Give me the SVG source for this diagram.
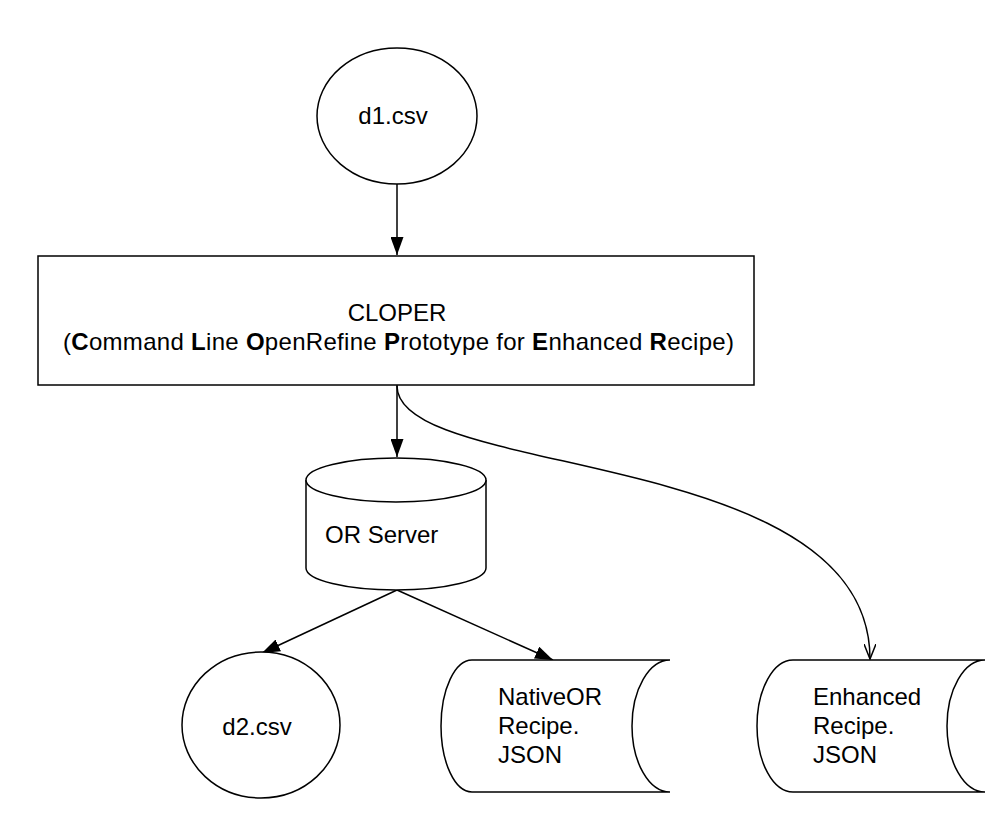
<svg xmlns="http://www.w3.org/2000/svg" width="1008" height="820" viewBox="0 0 1008 820">
<style>
.shape{fill:#fff;stroke:#000;stroke-width:1.5}
.lbl{font-family:"Liberation Sans",Arial,sans-serif;font-size:24px;fill:#000}
.edge{fill:none;stroke:#000;stroke-width:1.5}
</style>
<defs>
<marker id="fill" viewBox="0 0 18 13" refX="18" refY="6.5" markerWidth="18" markerHeight="13" markerUnits="userSpaceOnUse" orient="auto">
<path d="M0,0 L18,6.5 L0,13 Z" fill="#000"/>
</marker>
<marker id="open" viewBox="0 0 16 12" refX="15" refY="6" markerWidth="16" markerHeight="12" markerUnits="userSpaceOnUse" orient="auto">
<path d="M0,0 L15,6 L0,12" fill="none" stroke="#000" stroke-width="1.5"/>
</marker>
</defs>
<rect width="1008" height="820" fill="#fff"/>
<g id="connectors">
<path class="edge" d="M397,184 V255" marker-end="url(#fill)"/>
<path class="edge" d="M397,385 V457" marker-end="url(#fill)"/>
<path class="edge" d="M397,386 C397,480 870,445 870,659" marker-end="url(#open)"/>
<path class="edge" d="M397,590 L262,653" marker-end="url(#fill)"/>
<path class="edge" d="M397,590 L553,660" marker-end="url(#fill)"/>
</g>
<g id="d1">
<ellipse class="shape" cx="397" cy="116" rx="80" ry="68"/>
<text class="lbl" x="393" y="124" text-anchor="middle">d1.csv</text>
</g>
<g id="cloper">
<rect class="shape" x="38" y="256" width="716" height="129"/>
<text class="lbl" x="397" y="321" text-anchor="middle">CLOPER</text>
<text class="lbl" x="63" y="350" textLength="671" lengthAdjust="spacing">(<tspan font-weight="bold">C</tspan>ommand <tspan font-weight="bold">L</tspan>ine <tspan font-weight="bold">O</tspan>penRefine <tspan font-weight="bold">P</tspan>rototype for <tspan font-weight="bold">E</tspan>nhanced <tspan font-weight="bold">R</tspan>ecipe)</text>
</g>
<g id="orserver">
<path class="shape" d="M306,480 V568 A90,22 0 0 0 486,568 V480"/>
<ellipse class="shape" cx="396" cy="480" rx="90" ry="22"/>
<text class="lbl" x="325" y="543">OR Server</text>
</g>
<g id="d2">
<ellipse class="shape" cx="261" cy="725" rx="79" ry="73"/>
<text class="lbl" x="257" y="735" text-anchor="middle">d2.csv</text>
</g>
<g id="native">
<path class="shape" d="M472,660 H670 A38,66 0 0 0 670,792 H472 A31,66 0 0 1 472,660 Z"/>
<text class="lbl" x="498" y="705">NativeOR</text>
<text class="lbl" x="498" y="734">Recipe.</text>
<text class="lbl" x="498" y="763">JSON</text>
</g>
<g id="enhanced">
<path class="shape" d="M793,660 H985 A38,66 0 0 0 985,792 H793 A36,66 0 0 1 793,660 Z"/>
<text class="lbl" x="813" y="705">Enhanced</text>
<text class="lbl" x="813" y="734">Recipe.</text>
<text class="lbl" x="813" y="763">JSON</text>
</g>
</svg>
